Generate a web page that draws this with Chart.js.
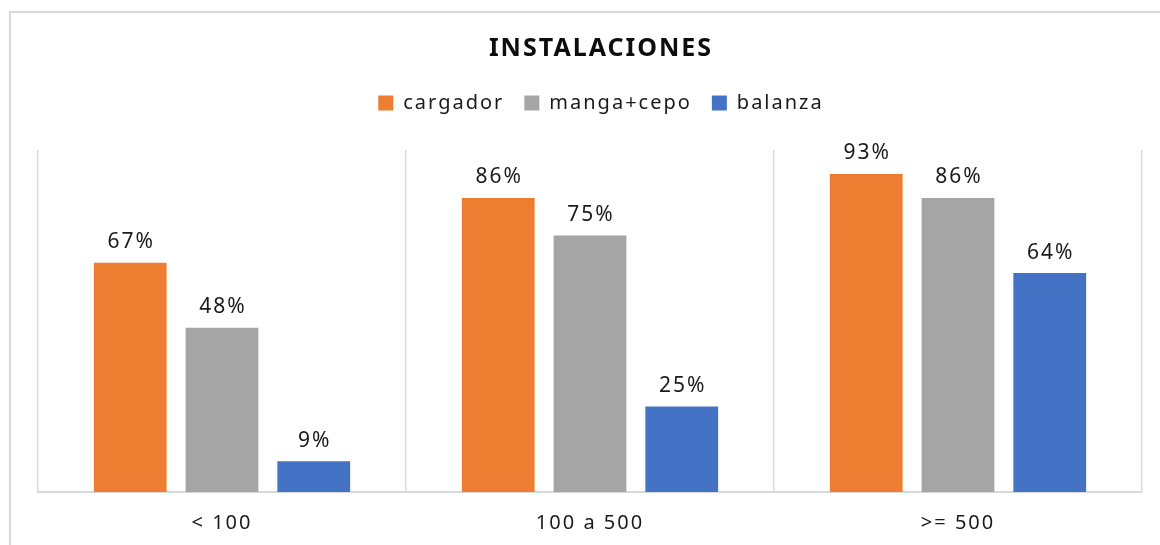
<!DOCTYPE html>
<html>
<head>
<meta charset="utf-8">
<script src="https://cdn.jsdelivr.net/npm/chart.js@4"></script>
<style>
    html, body { margin: 0; padding: 0; background: #fff; overflow: hidden; }
    #wrap { position: relative; width: 1160px; height: 545px; }
    #frame {
        position: absolute; left: 9px; top: 11px; width: 1200px; height: 600px;
        border-left: 2px solid #d9d9d9; border-top: 2px solid #d9d9d9;
    }
    canvas { position: absolute; left: 0; top: 0; }
</style>
</head>
<body>
<div id="wrap">
    <div id="frame"></div>
    <canvas id="instChart" width="1160" height="545"></canvas>
</div>
<script>
const categories = ['< 100', '100 a 500', '>= 500'];
const cargador = [67, 86, 93];
const mangaCepo = [48, 75, 86];
const balanza = [9, 25, 64];

const fontFamily = "'Noto Sans', 'Open Sans', sans-serif";
const spacing = '2px';

// labels with the value + % above each bar
const valueLabels = {
    id: 'valueLabels',
    afterDatasetsDraw(chart) {
        const ctx = chart.ctx;
        ctx.save();
        ctx.letterSpacing = spacing;
        ctx.font = '21px ' + fontFamily;
        ctx.fillStyle = '#1a1a1a';
        ctx.textAlign = 'center';
        ctx.textBaseline = 'bottom';
        chart.data.datasets.forEach((ds, i) => {
            chart.getDatasetMeta(i).data.forEach((bar, j) => {
                ctx.fillText(ds.data[j] + '%', bar.x + 1, bar.y - 10);
            });
        });
        ctx.restore();
    }
};

// extra room under the legend, title/legend a bit to the right, letter spacing
const legendSpace = {
    id: 'legendSpace',
    beforeInit(chart) {
        const fit = chart.legend.fit;
        chart.legend.fit = function () {
            fit.call(this);
            this.height += 27;
        };
    },
    beforeUpdate(chart) {
        chart.ctx.letterSpacing = spacing;
    },
    afterLayout(chart) {
        chart.titleBlock.left += 22;
        chart.legend.left += 22;
    },
    beforeDraw(chart) {
        chart.ctx.letterSpacing = spacing;
    }
};

const ctx = document.getElementById('instChart').getContext('2d');
const instChart = new Chart(ctx, {
    type: 'bar',
    data: {
        labels: categories,
        datasets: [
            { label: 'cargador', data: cargador, backgroundColor: '#ED7D31' },
            { label: 'manga+cepo', data: mangaCepo, backgroundColor: '#A5A5A5' },
            { label: 'balanza', data: balanza, backgroundColor: '#4472C4' },
        ],
    },
    options: {
        responsive: false,
        animation: false,
        layout: { padding: { left: 38, right: 18, top: 0, bottom: -9 } },
        datasets: {
            bar: { categoryPercentage: 0.748, barPercentage: 0.793 },
        },
        plugins: {
            title: {
                display: true,
                text: 'INSTALACIONES',
                color: '#0d0d0d',
                font: { family: fontFamily, size: 25, weight: 'bold' },
                padding: { top: 34, bottom: 9 },
            },
            legend: {
                position: 'top',
                labels: {
                    boxWidth: 15,
                    boxHeight: 15,
                    padding: 20,
                    color: '#1a1a1a',
                    font: { family: fontFamily, size: 20 },
                },
            },
            tooltip: { enabled: false },
        },
        scales: {
            x: {
                grid: { color: '#d9d9d9', lineWidth: 1.5, drawTicks: false },
                border: { color: '#d9d9d9', width: 2 },
                ticks: {
                    color: '#1a1a1a',
                    padding: 19,
                    font: { family: fontFamily, size: 20 },
                },
            },
            y: {
                display: false,
                min: 0,
                max: 100,
            },
        },
    },
    plugins: [valueLabels, legendSpace],
});
</script>
</body>
</html>
